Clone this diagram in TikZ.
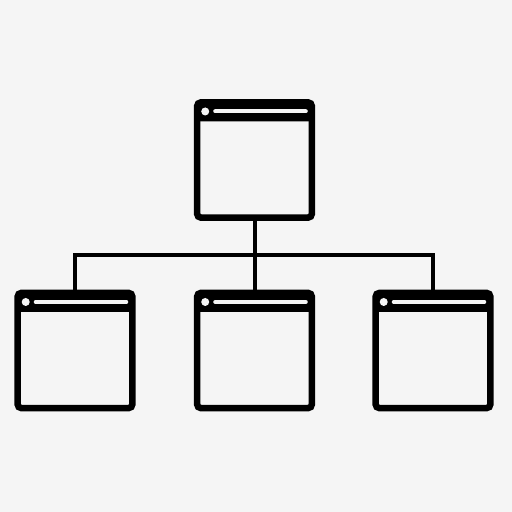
\documentclass[tikz,border=0pt]{standalone}
\usepackage{tikz}
\usetikzlibrary{positioning}
\definecolor{bg}{RGB}{245,245,245}
\tikzset{
  window/.style={draw, fill=bg, line width=0.065cm, rounded corners=0.035cm,
    minimum width=1.145cm, minimum height=1.15cm, inner sep=0pt,
    path picture={
      % title bar
      \fill[black] (path picture bounding box.north west) rectangle ([yshift=-0.19cm]path picture bounding box.north east);
      \fill[bg] ([shift={(0.08cm,-0.09cm)}]path picture bounding box.north west) circle (0.04cm);
      \draw[bg, line width=0.04cm, line cap=round] ([shift={(0.18cm,-0.09cm)}]path picture bounding box.north west) -- ([shift={(-0.06cm,-0.09cm)}]path picture bounding box.north east);
    }},
  link/.style={line width=0.04cm}
}
\begin{document}
\begin{tikzpicture}[x=0.01cm, y=-0.01cm]
\fill[bg] (0,0) rectangle (512,512);
\useasboundingbox (0,0) rectangle (512,512);

\node[window] (root) at (254.5,160) {};
\node[window] (leaf1) at (75,350.5) {};
\node[window] (leaf2) at (254.5,350.5) {};
\node[window] (leaf3) at (433,350.5) {};
\coordinate (hub) at (254.5,255);

\draw[link] (root.south) -- (leaf2.north);
\draw[link] (leaf1.north) |- (hub) -| (leaf3.north);
\end{tikzpicture}
\end{document}
